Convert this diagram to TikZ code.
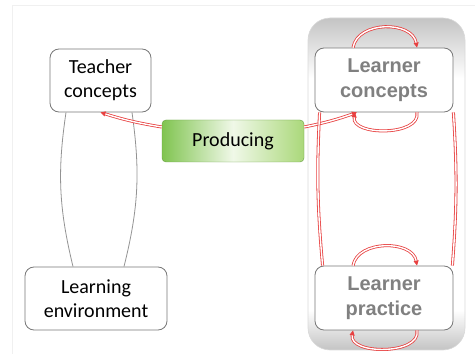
\documentclass[tikz,border=0pt]{standalone}
\usepackage{fontspec}
\setmainfont{Carlito}
\newfontfamily\learnerfont{Liberation Sans}
\usetikzlibrary{arrows.meta}
\definecolor{boxgray}{RGB}{120,120,120}
\definecolor{textgray}{RGB}{128,128,128}
\definecolor{linkred}{RGB}{232,64,64}
\definecolor{leafgreen}{RGB}{128,196,80}
\definecolor{palegreen}{RGB}{240,248,232}
\definecolor{midgreen}{RGB}{170,216,122}
\definecolor{groupgray}{RGB}{196,196,196}
\pgfdeclareverticalshading{groupshade}{100bp}{color(0bp)=(groupgray); color(25bp)=(groupgray);
  color(31bp)=(white); color(66bp)=(white); color(75bp)=(groupgray); color(100bp)=(groupgray)}

\begin{document}
\begin{tikzpicture}[x=1pt,y=1pt,
    concept/.style={draw=boxgray, line width=0.8pt, fill=white, rounded corners=9pt,
        align=center, inner sep=0pt, font=\fontsize{20}{24}\selectfont},
    learner/.style={concept, text=textgray,
        font=\learnerfont\bfseries\fontsize{20}{25}\selectfont},
    activity/.style={draw=leafgreen!80!black, line width=0.4pt, rounded corners=4pt,
        left color=leafgreen, right color=midgreen, middle color=palegreen,
        inner sep=0pt, font=\fontsize{20}{24}\selectfont},
    groupbox/.style={draw=black!15, line width=0.6pt, rounded corners=22pt,
        shading=groupshade, inner sep=0pt},
    link/.style={draw=linkred, line width=0.8pt, double=white, double distance=1.4pt},
    loop/.style={link, -{Triangle[length=5pt,width=5pt]}}
  ]
    \useasboundingbox (0,0) rectangle (475,354);
    \draw[black!6] (12,0) -- (12,349) -- (475,349);

    % learner group
    \node[groupbox, minimum width=157, minimum height=332] (group) at (386.5,170) {};

    \node[concept, minimum width=101, minimum height=63] (teacher) at (100.5,273.5) {Teacher\\concepts};
    \node[concept, minimum width=142, minimum height=63] (env) at (96,55.5) {Learning\\environment};
    \node[activity, minimum width=142, minimum height=42] (producing) at (233,213) {Producing};
    \node[learner, minimum width=138, minimum height=64] (lconcepts) at (384,274) {Learner\\concepts};
    \node[learner, minimum width=138, minimum height=64] (lpractice) at (384,56) {Learner\\practice};

    % teacher side
    \draw[boxgray!80, line width=0.8pt] ([xshift=-34.5]teacher.south) to[bend right=11] ([xshift=-23]env.north);
    \draw[boxgray!80, line width=0.8pt] ([xshift=31.5]teacher.south) to[bend left=11] ([xshift=28]env.north);

    % producing
    \draw[loop] ([yshift=14]producing.west) to[bend left=4] (teacher.south);
    \draw[loop] ([yshift=14]producing.east) to[bend right=4] ([xshift=-27]lconcepts.south);

    % learner side
    \draw[link] ([xshift=5]lconcepts.south west) to[bend right=4] ([xshift=8]lpractice.north west);
    \draw[link] (lconcepts.south east) to[bend left=4] ([xshift=-1]lpractice.north east);
    \draw[loop] ([xshift=-31]lconcepts.north) to[out=80,in=100,looseness=1.1] ([xshift=33]lconcepts.north);
    \draw[loop] ([xshift=33]lconcepts.south) to[out=-80,in=-100,looseness=1.0] ([xshift=-29]lconcepts.south);
    \draw[loop] ([xshift=-31]lpractice.north) to[out=80,in=100,looseness=1.05] ([xshift=33]lpractice.north);
    \draw[loop] ([xshift=33]lpractice.south) to[out=-80,in=-100,looseness=1.0] ([xshift=-31]lpractice.south);
\end{tikzpicture}
\end{document}
